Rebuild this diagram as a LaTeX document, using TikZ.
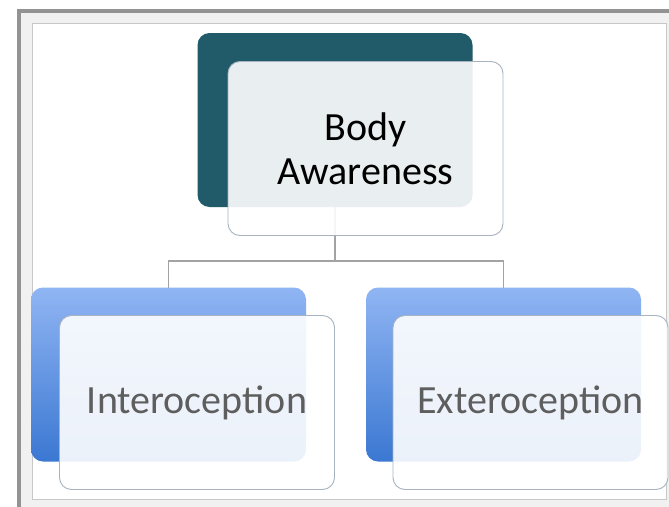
\documentclass[tikz,border=0pt]{standalone}
\usepackage{fontspec}
\setmainfont{Carlito}

\definecolor{teal}{HTML}{215A69}
\definecolor{bluetop}{HTML}{90B5F3}
\definecolor{bluebot}{HTML}{3B78D2}
\definecolor{rim}{HTML}{A7B3C0}
\definecolor{wire}{HTML}{A3A3A3}
\definecolor{panel}{HTML}{F1F1F1}
\definecolor{labelgray}{HTML}{5E5E5E}

\tikzset{
	box/.style={rectangle, rounded corners=12pt, inner sep=0pt, outer sep=0pt,
		minimum width=275pt, minimum height=174pt},
	backdark/.style={box, fill=teal},
	backblue/.style={box, top color=bluetop, bottom color=bluebot},
	front/.style={box, draw=rim, line width=0.9pt, fill=white, fill opacity=0.9,
		text opacity=1, align=center, font=\fontsize{40}{44}\selectfont},
	wire/.style={draw=wire, line width=1.2pt}
}

\begin{document}
\begin{tikzpicture}[x=1pt,y=-1pt]
	\useasboundingbox (0,0) rectangle (669,506);
	\fill[white] (0,0) rectangle (669,506);
	% window frame
	\fill[panel] (19,10) rectangle (680,520);
	\draw[gray!85, line width=4pt] (19,540) -- (19,10.5) -- (690,10.5);
	\draw[black!22, line width=0.8pt, fill=white] (32,23) rectangle (666.5,499);

	% boxes behind
	\node[backdark] (topback) at (335,120) {};
	\node[backblue] (leftback) at (168.5,374.5) {};
	\node[backblue] (rightback) at (503.5,374.5) {};

	% connectors
	\coordinate (split) at (335,261);
	\draw[wire] (topback.south) -- (split);
	\draw[wire] (leftback.north) |- (split) -| (rightback.north);

	% boxes in front
	\node[front] (topfront) at (365.5,148.5) {Body\\Awareness};
	\node[front, text=labelgray] (leftfront) at (197,402.5) {Interoception};
	\node[front, text=labelgray] (rightfront) at (530.5,402.5) {Exteroception};
\end{tikzpicture}
\end{document}
